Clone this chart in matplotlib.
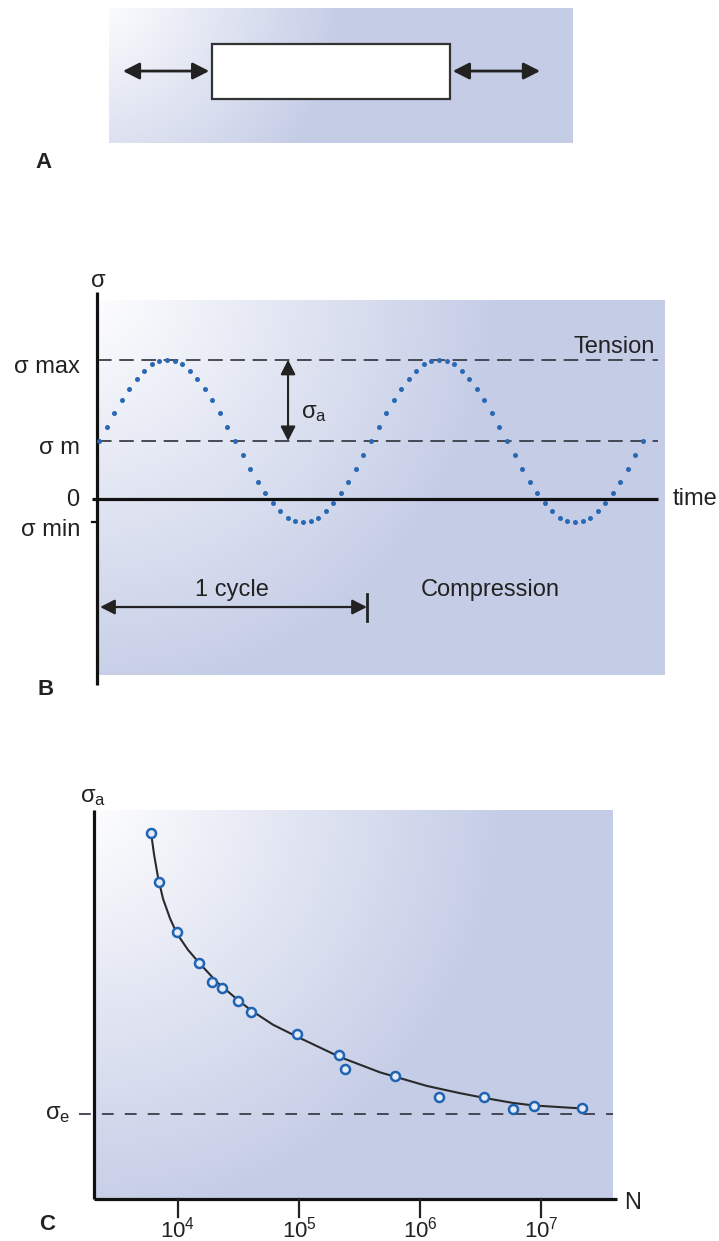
import numpy as np
import matplotlib.pyplot as plt

plt.rcParams['font.family'] = ['Liberation Sans', 'DejaVu Sans']
plt.rcParams['mathtext.fontset'] = 'custom'
plt.rcParams['mathtext.rm'] = 'Liberation Sans'
plt.rcParams['mathtext.it'] = 'Liberation Sans:italic'
plt.rcParams['lines.scale_dashes'] = False

# --- panel B: cyclic load (stress units, time in cycles)
sigma_max = 2.4
sigma_mean = 1.0
sigma_min = -0.4
# one cycle of the dotted trace (36 dots per cycle)
cycle_trace = [1.00, 1.24, 1.48, 1.70, 1.90, 2.07, 2.21, 2.32, 2.38, 2.40, 2.38, 2.32,
               2.21, 2.07, 1.90, 1.70, 1.48, 1.24, 1.00, 0.76, 0.52, 0.30, 0.10, -0.07,
               -0.21, -0.32, -0.38, -0.40, -0.38, -0.32, -0.21, -0.07, 0.10, 0.30, 0.52, 0.76]
n_cycles = 2
cycle_len = 0.985

# --- panel C: S-N data
test_N = [6.0e3, 7.0e3, 9.8e3, 1.49e4, 1.91e4, 2.31e4, 3.13e4, 4.01e4, 9.6e4,
          2.14e5, 2.4e5, 6.2e5, 1.44e6, 3.38e6, 5.9e6, 8.75e6, 2.18e7]
test_sa = [4.31, 3.73, 3.14, 2.78, 2.55, 2.48, 2.33, 2.20, 1.94,
           1.69, 1.53, 1.45, 1.20, 1.20, 1.06, 1.09, 1.07]
fit_N = [5.98e3, 6.34e3, 6.84e3, 7.52e3, 8.59e3, 9.81e3, 1.21e4, 1.49e4, 2.10e4,
         3.13e4, 4.01e4, 6.10e4, 9.61e4, 2.18e5, 4.67e5, 1.14e6, 2.14e6, 3.38e6,
         5.87e6, 8.75e6, 2.18e7]
fit_sa = [4.31, 4.05, 3.78, 3.53, 3.30, 3.12, 2.93, 2.78, 2.55,
          2.34, 2.22, 2.05, 1.91, 1.67, 1.49, 1.33, 1.245, 1.19,
          1.13, 1.10, 1.065]
sigma_e = 1.0
decades = [1e4, 1e5, 1e6, 1e7]
decade_labels = [r'$\mathregular{10^4}$', r'$\mathregular{10^5}$',
                 r'$\mathregular{10^6}$', r'$\mathregular{10^7}$']

W, H = 719, 1241
fig = plt.figure(figsize=(W / 100, H / 100), dpi=100)

WHITE = np.array([1.0, 1.0, 1.0])
BLUE = np.array([196, 204, 230]) / 255
INK = '#222222'
DASH = '#3a3e48'
DOT = '#2a68b4'


def box(l, t, r, b):
    return [l / W, 1 - b / H, (r - l) / W, (b - t) / H]


def shaded_panel(l, t, r, b, radius):
    # white corner at top left fading into the blue-grey wash
    w, h = int(r - l), int(b - t)
    yy, xx = np.mgrid[0:h, 0:w]
    f = np.clip(np.hypot(xx + 12, yy + 12) / radius, 0, 1)[..., None]
    img = WHITE * (1 - f) + BLUE * f
    bg = fig.add_axes(box(l, t, r, b), zorder=0)
    bg.imshow(img, aspect='auto', interpolation='bilinear')
    bg.axis('off')


def dbl_arrow(ax, p0, p1, lw=1.8, ms=18):
    ax.annotate('', xy=p1, xytext=p0, annotation_clip=False,
                arrowprops=dict(arrowstyle='<|-|>,head_length=0.55,head_width=0.28',
                                mutation_scale=ms, lw=lw, color=INK,
                                shrinkA=0, shrinkB=0))


# ---------------- A ----------------
shaded_panel(109, 8, 573, 143, 250)
axa = fig.add_axes(box(109, 8, 573, 143), zorder=2)
axa.set_xlim(0, 100)
axa.set_ylim(0, 100)
axa.axis('off')
axa.add_patch(plt.Rectangle((22.2, 32.6), 51.3, 40.7, fc='white', ec='#333333', lw=1.6))
dbl_arrow(axa, (3.0, 53.3), (21.6, 53.3), lw=2.0)
dbl_arrow(axa, (74.1, 53.3), (92.9, 53.3), lw=2.0)
axa.text(-14.2, -14.1, 'A', fontsize=16, fontweight='bold', color=INK,
         ha='center', va='center')

# ---------------- B ----------------
shaded_panel(97, 300, 665, 675, 420)
axb = fig.add_axes(box(97, 300, 665, 675), zorder=2)
axb.set_xlim(-0.0074, 2.081)
axb.set_ylim(-3.034, 3.431)
axb.axis('off')

trace = cycle_trace * n_cycles + [cycle_trace[0]]
t = np.arange(len(trace)) / len(cycle_trace)

for lvl in (sigma_max, sigma_mean):
    axb.plot([-0.0074, 2.055], [lvl, lvl], color=DASH, lw=1.3, dashes=(10.5, 5.5))
axb.plot([-0.026, 2.055], [0, 0], color='#111111', lw=2.3, clip_on=False,
         solid_capstyle='butt')
axb.plot([-0.0074, -0.0074], [-3.21, 3.57], color='#111111', lw=2.3, clip_on=False,
         solid_capstyle='butt')
axb.plot([-0.026, -0.0074], [sigma_min, sigma_min], color='#111111', lw=1.6,
         clip_on=False)
axb.plot(t, trace, 'o', ms=3.6, mew=0, color=DOT, zorder=4)

dbl_arrow(axb, (0.695, sigma_mean), (0.695, sigma_max), lw=1.5, ms=16)
axb.text(0.741, 1.48, r'$\mathregular{σ_a}$', fontsize=17, color=INK,
         ha='left', va='center')
axb.text(2.044, 2.62, 'Tension', fontsize=17, color=INK, ha='right', va='center')
axb.text(2.11, 0.0, 'time', fontsize=17, color=INK, ha='left', va='center')
axb.text(1.438, -1.57, 'Compression', fontsize=17, color=INK, ha='center', va='center')
axb.text(0.489, -1.57, '1 cycle', fontsize=17, color=INK, ha='center', va='center')
dbl_arrow(axb, (0.004, -1.862), (cycle_len, -1.862), lw=1.6, ms=16)
axb.plot([cycle_len, cycle_len], [-1.638, -2.103], color=INK, lw=2.0)

axb.text(-0.0699, 2.276, 'σ max', fontsize=17, color=INK, ha='right', va='center')
axb.text(-0.0699, 0.879, 'σ m', fontsize=17, color=INK, ha='right', va='center')
axb.text(-0.0735, -0.017, '0', fontsize=17, color=INK, ha='right', va='center')
axb.text(-0.0699, -0.534, 'σ min', fontsize=17, color=INK, ha='right', va='center')
axb.text(-0.0037, 3.76, 'σ', fontsize=17, color=INK, ha='center', va='center')
axb.text(-0.195, -3.29, 'B', fontsize=16, fontweight='bold', color=INK,
         ha='center', va='center')

# ---------------- C ----------------
shaded_panel(94, 810, 613, 1199, 430)
axc = fig.add_axes(box(94, 810, 613, 1199), zorder=2)
axc.set_xscale('log')
axc.set_xlim(2.02e3, 3.94e7)
axc.set_ylim(0, 4.576)
axc.axis('off')

axc.plot([2.02e3, 2.02e3], [0, 4.576], color='#111111', lw=2.3, clip_on=False,
         solid_capstyle='butt')
axc.plot([2.02e3, 4.25e7], [0, 0], color='#111111', lw=2.3, clip_on=False,
         solid_capstyle='butt')
for d, lbl in zip(decades, decade_labels):
    axc.plot([d, d], [0, -0.212], color=INK, lw=1.6, clip_on=False)
    axc.text(d, -0.212, lbl, fontsize=16, color=INK, ha='center', va='top')
axc.plot([1.52e3, 3.94e7], [sigma_e, sigma_e], color=DASH, lw=1.3,
         dashes=(8.5, 8), clip_on=False)
axc.plot(fit_N, fit_sa, color='#2a2a2a', lw=1.5, zorder=3)
axc.plot(test_N, test_sa, 'o', ms=6.5, mfc='#e4eaf6', mec='#1f63b3', mew=1.8,
         zorder=4)

axc.text(5.75e7, -0.047, 'N', fontsize=17, color=INK, ha='center', va='center')
axc.text(1.02e3, sigma_e, r'$\mathregular{σ_e}$', fontsize=17, color=INK,
         ha='center', va='center')
axc.text(1.99e3, 4.73, r'$\mathregular{σ_a}$', fontsize=17, color=INK,
         ha='center', va='center')
axc.text(826, -0.30, 'C', fontsize=16, fontweight='bold', color=INK,
         ha='center', va='center')

fig.savefig('out.png', dpi=100)
